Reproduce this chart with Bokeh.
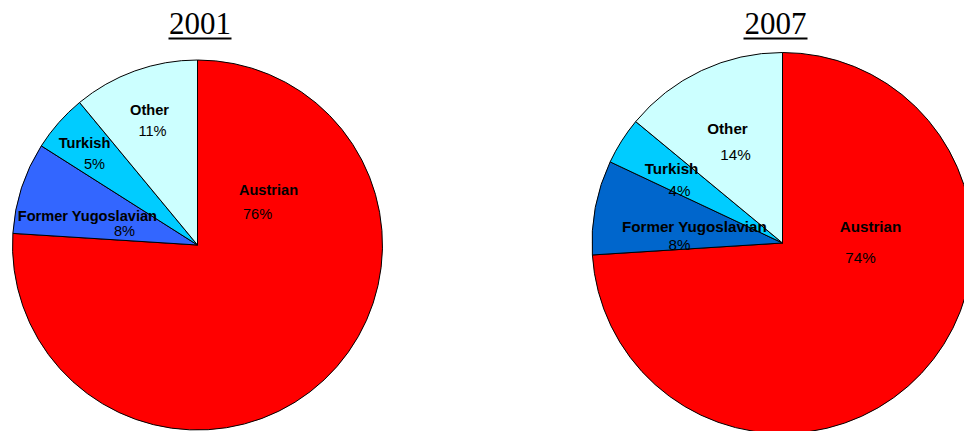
import math
from bokeh.plotting import figure
from bokeh.models import Range1d, ColumnDataSource
from bokeh.core.properties import value
from bokeh.embed import file_html
from bokeh.resources import INLINE

# ---------------- data ----------------
categories = ["Austrian", "Former Yugoslavian", "Turkish", "Other"]
years = ["2001", "2007"]
share_2001 = [76, 8, 5, 11]
share_2007 = [74, 8, 4, 14]

# ---------------- styles / layout ----------------
colors_2001 = ["#FF0000", "#3366FF", "#00CCFF", "#CCFFFF"]
colors_2007 = ["#FF0000", "#0066CC", "#00CCFF", "#CCFFFF"]

W, H = 964, 431

def Y(sy):
    return H - sy

p = figure(width=W, height=H, output_backend="svg", toolbar_location=None,
           x_range=Range1d(0, W), y_range=Range1d(0, H),
           min_border=0, outline_line_color=None)
p.axis.visible = False
p.grid.visible = False
p.background_fill_color = "white"
p.border_fill_color = "white"

pies = [
    dict(year=years[0], vals=share_2001, colors=colors_2001, cx=197, cy=244.5, r=185,
         title_x=199.5, title_mid=22.5, ul=(168, 231), fs_lab="14.6px",
         name_pos=[(71, 55), (-110, 29), (-113, 102), (-48, 135)],
         pct_pos=[(60, 31), (-73, 14), (-103, 81), (-45, 114)]),
    dict(year=years[1], vals=share_2007, colors=colors_2007, cx=782, cy=242.5, r=190.5,
         title_x=775, title_mid=22.5, ul=(743, 807), fs_lab="15.2px",
         name_pos=[(88, 17), (-88, 17), (-111, 75), (-55, 115)],
         pct_pos=[(78, -14), (-103, -1), (-103, 53), (-47, 89)]),
]

for pie in pies:
    vals = pie["vals"]
    total = float(sum(vals))
    starts, ends = [], []
    acc = 0.0
    for v in vals:
        starts.append(math.pi / 2 - 2 * math.pi * acc / total)
        acc += v
        ends.append(math.pi / 2 - 2 * math.pi * acc / total)
    src = ColumnDataSource(dict(start=starts, end=ends, color=pie["colors"],
                                cat=categories, val=vals))
    p.wedge(x=pie["cx"], y=Y(pie["cy"]), radius=pie["r"], start_angle="start", end_angle="end",
            direction="clock", fill_color="color", line_color="black", line_width=1, source=src)

    # labels
    nx = [pie["cx"] + d[0] for d in pie["name_pos"]]
    ny = [Y(pie["cy"]) + d[1] for d in pie["name_pos"]]
    px = [pie["cx"] + d[0] for d in pie["pct_pos"]]
    py = [Y(pie["cy"]) + d[1] for d in pie["pct_pos"]]
    p.text(x=nx, y=ny, text=categories, text_align="center", text_baseline="middle",
           text_font=value("Liberation Sans"), text_font_style="bold",
           text_font_size=pie["fs_lab"], text_color="black")
    p.text(x=px, y=py, text=[f"{v}%" for v in vals], text_align="center", text_baseline="middle",
           text_font=value("Liberation Sans"), text_font_size=pie["fs_lab"], text_color="black")

    # title
    p.text(x=[pie["title_x"]], y=[Y(pie["title_mid"])], text=[pie["year"]],
           text_align="center", text_baseline="middle",
           text_font=value("Liberation Serif"), text_font_size="31px", text_color="black")
    p.segment(x0=[pie["ul"][0]], y0=[Y(38)], x1=[pie["ul"][1]], y1=[Y(38)],
              line_color="black", line_width=2)

open("out.html", "w").write(file_html(p, INLINE))
